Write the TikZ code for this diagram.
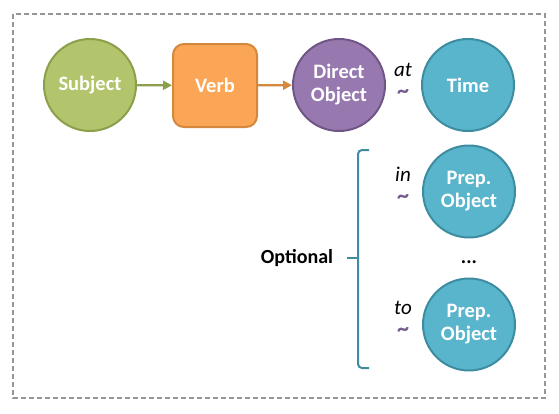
\documentclass[tikz,border=0pt]{standalone}
\usepackage{fontspec}
\setmainfont{Carlito}
\usetikzlibrary{arrows.meta}
\definecolor{gfill}{RGB}{178,196,108}
\definecolor{gdraw}{RGB}{140,160,76}
\definecolor{ofill}{RGB}{250,166,86}
\definecolor{odraw}{RGB}{212,136,62}
\definecolor{pfill}{RGB}{151,121,176}
\definecolor{pdraw}{RGB}{112,86,134}
\definecolor{tfill}{RGB}{88,181,204}
\definecolor{tdraw}{RGB}{62,140,160}
\definecolor{tilde}{RGB}{118,92,140}
\definecolor{frame}{RGB}{150,150,150}
\tikzset{
  lbl/.style={font=\fontsize{20.5}{23}\selectfont\bfseries, text=white, align=center},
  circ/.style={circle, minimum size=92pt, inner sep=0pt, line width=2pt, lbl},
  prep/.style={font=\fontsize{21}{23}\selectfont\itshape, text=black, inner sep=0pt, text depth=0pt, anchor=base},
  tld/.style={font=\fontsize{24}{23}\selectfont\bfseries, text=tilde, inner sep=0pt, anchor=base},
  conn/.style={line width=2.2pt, -{Triangle[length=9pt,width=9pt]}}
}
\begin{document}
\begin{tikzpicture}[x=1pt,y=-1pt]
\useasboundingbox (0,0) rectangle (559,413);
\draw[frame, line width=1.3pt, dash pattern=on 5pt off 3pt] (13,14) rectangle (545,398);
\node[circ, fill=gfill, draw=gdraw] (subj) at (90,85) {Subject};
\node[lbl, fill=ofill, draw=odraw, line width=2pt, rounded corners=11pt, minimum width=84pt, minimum height=83pt, inner sep=0pt] (verb) at (215,85.5) {Verb};
\node[circ, fill=pfill, draw=pdraw] (dobj) at (339,85) {Direct\\Object};
\node[circ, fill=tfill, draw=tdraw] (time) at (468,85) {Time};
\node[circ, fill=tfill, draw=tdraw] (pobj1) at (469,191.5) {Prep.\\Object};
\node[circ, fill=tfill, draw=tdraw] (pobj2) at (469,324.5) {Prep.\\Object};
\node[font=\fontsize{20}{23}\selectfont\bfseries, inner sep=0pt] (dots) at (469,262) {...};
\draw[conn, gdraw] (subj) -- (verb);
\draw[conn, odraw] (verb) -- (dobj);
\node[prep] (at) at (403,76) {at};
\node[tld] (t1) at (403,98) {\char"007E};
\node[prep] (in) at (403,181) {in};
\node[tld] (t2) at (403,203) {\char"007E};
\node[prep] (to) at (403,314) {to};
\node[tld] (t3) at (403,336) {\char"007E};
\node[font=\fontsize{20}{23}\selectfont\bfseries, inner sep=0pt] (opt) at (297,258) {Optional};
\coordinate (btop) at (369,150);
\coordinate (bbot) at (369,368);
\coordinate (bmid) at (347,258);
\draw[tdraw, line width=2pt, rounded corners=4pt] (btop) -- (358,150) -- (358,368) -- (bbot);
\draw[tdraw, line width=2pt] (bmid) -- (358,258);
\end{tikzpicture}
\end{document}
